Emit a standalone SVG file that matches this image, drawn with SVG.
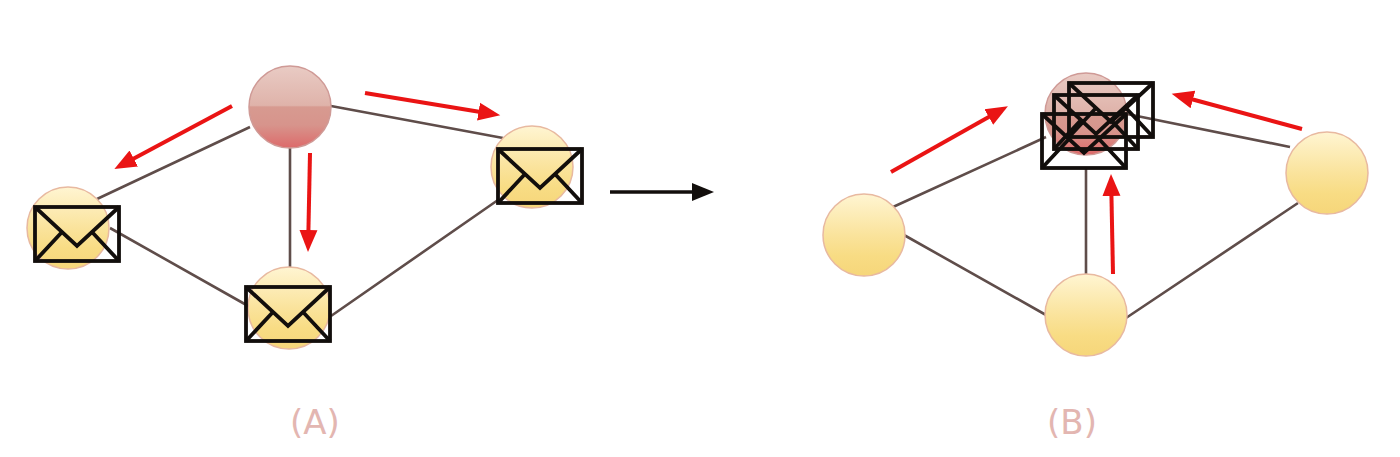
<svg xmlns="http://www.w3.org/2000/svg" width="1400" height="457" viewBox="0 0 1400 457">
<style>
.link{stroke:#5f4d4a;stroke-width:2.6;fill:none}
.y{fill:url(#yg);stroke:#e8b9a0;stroke-width:1.5}
.r{fill:url(#rg);stroke:#cf9a96;stroke-width:1.5}
.env{fill:none;stroke:#120e0c;stroke-width:3.8;stroke-linejoin:miter}
.red{stroke:#ea1414;stroke-width:4;fill:none;marker-end:url(#ra)}
.lab{font-family:"DejaVu Sans",sans-serif;font-size:34px;fill:#e3b6b1;text-anchor:middle}
</style>
<defs>
<linearGradient id="yg" x1="0" y1="0" x2="0" y2="1"><stop offset="0" stop-color="#fff5d2"/><stop offset="0.5" stop-color="#fae39c"/><stop offset="0.75" stop-color="#f8dc84"/><stop offset="1" stop-color="#f6d67a"/></linearGradient>
<linearGradient id="rg" x1="0" y1="0" x2="0" y2="1"><stop offset="0" stop-color="#e9cbc4"/><stop offset="0.48" stop-color="#dfb3aa"/><stop offset="0.5" stop-color="#d79a90"/><stop offset="0.72" stop-color="#d7948c"/><stop offset="1" stop-color="#dd6a6a"/></linearGradient>
<marker id="ra" markerUnits="userSpaceOnUse" markerWidth="24" markerHeight="20" refX="2" refY="10" orient="auto"><path d="M0 1L22 10L0 19Z" fill="#ea1414"/></marker>
<marker id="ka" markerUnits="userSpaceOnUse" markerWidth="24" markerHeight="20" refX="2" refY="10" orient="auto"><path d="M0 1L22 10L0 19Z" fill="#120e0c"/></marker>
<g id="envelope"><rect class="env" x="0" y="0" width="84" height="54"/><path class="env" d="M0 0L42 39L84 0M0 54L27 25M84 54L57 25"/></g>
</defs>
<g id="connectors">
<path class="link" d="M250 127L97 199M290 148L290 268M331 106L503 138M110 228L250 307M498 200L331 316"/>
<path class="link" d="M1046 137L893 207M1086 168L1086 274M1127 114L1290 147M904 235L1046 315M1298 203L1126 318"/>
<path class="red" d="M232 106L132 159.5"/>
<path class="red" d="M310 153L308.4 232"/>
<path class="red" d="M365 93L480.5 112"/>
<path class="red" d="M891 172L990.5 116"/>
<path class="red" d="M1113 274L1111.4 194"/>
<path class="red" d="M1302 129L1191 99"/>
<path d="M610 192L694 192" stroke="#120e0c" stroke-width="3.4" fill="none" marker-end="url(#ka)"/>
</g>
<g id="a-top"><circle class="r" cx="290" cy="107" r="41"/></g>
<g id="a-left"><circle class="y" cx="68" cy="228" r="41"/><use href="#envelope" x="35" y="207"/></g>
<g id="a-bottom"><circle class="y" cx="289" cy="308" r="41"/><use href="#envelope" x="246" y="287"/></g>
<g id="a-right"><circle class="y" cx="532" cy="167" r="41"/><use href="#envelope" x="498" y="149"/></g>
<g id="b-top"><circle class="r" cx="1086" cy="114" r="41"/><use href="#envelope" x="1069" y="83"/><use href="#envelope" x="1054" y="95"/><use href="#envelope" x="1042" y="114"/></g>
<g id="b-left"><circle class="y" cx="864" cy="235" r="41"/></g>
<g id="b-bottom"><circle class="y" cx="1086" cy="315" r="41"/></g>
<g id="b-right"><circle class="y" cx="1327" cy="173" r="41"/></g>
<text class="lab" x="315" y="434">(A)</text>
<text class="lab" x="1072" y="434">(B)</text>
</svg>
